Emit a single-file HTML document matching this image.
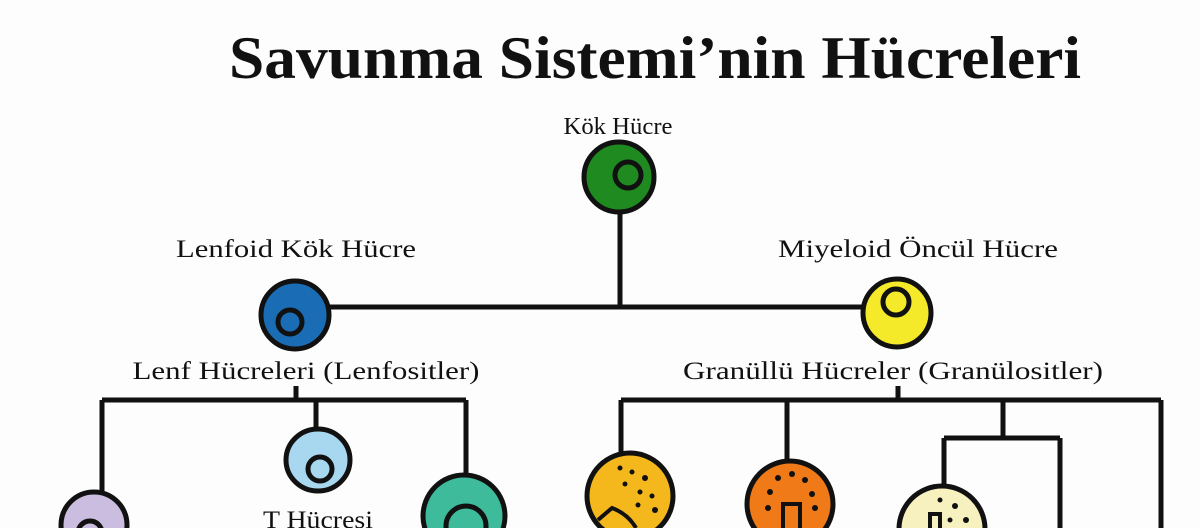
<!DOCTYPE html>
<html><head><meta charset="utf-8"><style>
html,body{margin:0;padding:0;background:#fff;width:1200px;height:528px;overflow:hidden}
svg{display:block}
</style></head><body>
<svg width="1200" height="528" viewBox="0 0 1200 528" xmlns="http://www.w3.org/2000/svg">
<rect width="1200" height="528" fill="#fdfdfd"/>
<g font-family="Liberation Serif, serif" fill="#111" text-anchor="middle">
<text x="655" y="78" font-size="60" font-weight="bold" textLength="852" lengthAdjust="spacingAndGlyphs">Savunma Sistemi’nin Hücreleri</text>
<text x="618" y="134" font-size="24" textLength="109" lengthAdjust="spacingAndGlyphs">Kök Hücre</text>
<text x="296" y="257" font-size="25" textLength="240" lengthAdjust="spacingAndGlyphs">Lenfoid Kök Hücre</text>
<text x="918" y="257" font-size="25" textLength="280" lengthAdjust="spacingAndGlyphs">Miyeloid Öncül Hücre</text>
<text x="306" y="379" font-size="25" textLength="347" lengthAdjust="spacingAndGlyphs">Lenf Hücreleri (Lenfositler)</text>
<text x="893" y="379" font-size="25" textLength="420" lengthAdjust="spacingAndGlyphs">Granüllü Hücreler (Granülositler)</text>
<text x="318" y="528" font-size="25" textLength="110" lengthAdjust="spacingAndGlyphs">T Hücresi</text>
</g>
<g stroke="#111" stroke-width="5" fill="none">
<path d="M620 210 V307 M295 307 H897"/>
<path d="M296 386 V400 M102 400 H466 M102 400 V495 M316 400 V430 M466 400 V476"/>
<path d="M898 386 V400 M621 400 H1161 M621 400 V452 M787 400 V462 M1003 400 V438 M944 438 H1060 M944 438 V486 M1060 438 V528 M1161 400 V528"/>
</g>
<g stroke="#111" stroke-width="5">
<circle cx="619" cy="177" r="35" fill="#1f8a1f"/>
<circle cx="628" cy="175" r="13" fill="#1f8a1f"/>
<circle cx="295" cy="315" r="34" fill="#1a6db5"/>
<circle cx="290" cy="322" r="12" fill="#1a6db5"/>
<circle cx="897" cy="313" r="34" fill="#f5ea2a"/>
<circle cx="896" cy="302" r="13" fill="#f5ea2a"/>
<ellipse cx="318" cy="460" rx="32" ry="31" fill="#a8d8f0"/>
<circle cx="320" cy="469" r="12" fill="#a8d8f0"/>
<circle cx="94" cy="525" r="33" fill="#cbbde0"/>
<circle cx="90" cy="533" r="12" fill="#cbbde0"/>
<circle cx="464" cy="516" r="41" fill="#3dbb9a"/>
<circle cx="466" cy="526" r="20" fill="#3dbb9a"/>
<circle cx="630" cy="496" r="43" fill="#f4b71c"/>
<circle cx="790" cy="504" r="43" fill="#ef7a17"/>
<circle cx="942" cy="529" r="43" fill="#f7f1c0"/>
</g>
<g fill="#111">
<circle cx="620" cy="468" r="2.5"/><circle cx="632" cy="472" r="2.5"/><circle cx="645" cy="478" r="3"/><circle cx="625" cy="484" r="2.5"/><circle cx="640" cy="492" r="2.5"/><circle cx="652" cy="496" r="2.5"/><circle cx="655" cy="510" r="3"/><circle cx="638" cy="505" r="2.5"/>
<circle cx="778" cy="478" r="3"/><circle cx="792" cy="474" r="3"/><circle cx="805" cy="480" r="3"/><circle cx="812" cy="494" r="3"/><circle cx="770" cy="492" r="3"/><circle cx="815" cy="508" r="3"/><circle cx="768" cy="508" r="3"/>
<circle cx="940" cy="500" r="2.5"/><circle cx="955" cy="506" r="3"/><circle cx="966" cy="520" r="3"/><circle cx="950" cy="520" r="2.5"/>
</g>
<g stroke="#111" stroke-width="4" fill="none">
<path d="M598 520 L612 508 Q628 514 636 528"/>
<path d="M783 528 V504 H800 V528"/>
<path d="M930 528 V514 H940 V528"/>
</g>
</svg>
</body></html>
